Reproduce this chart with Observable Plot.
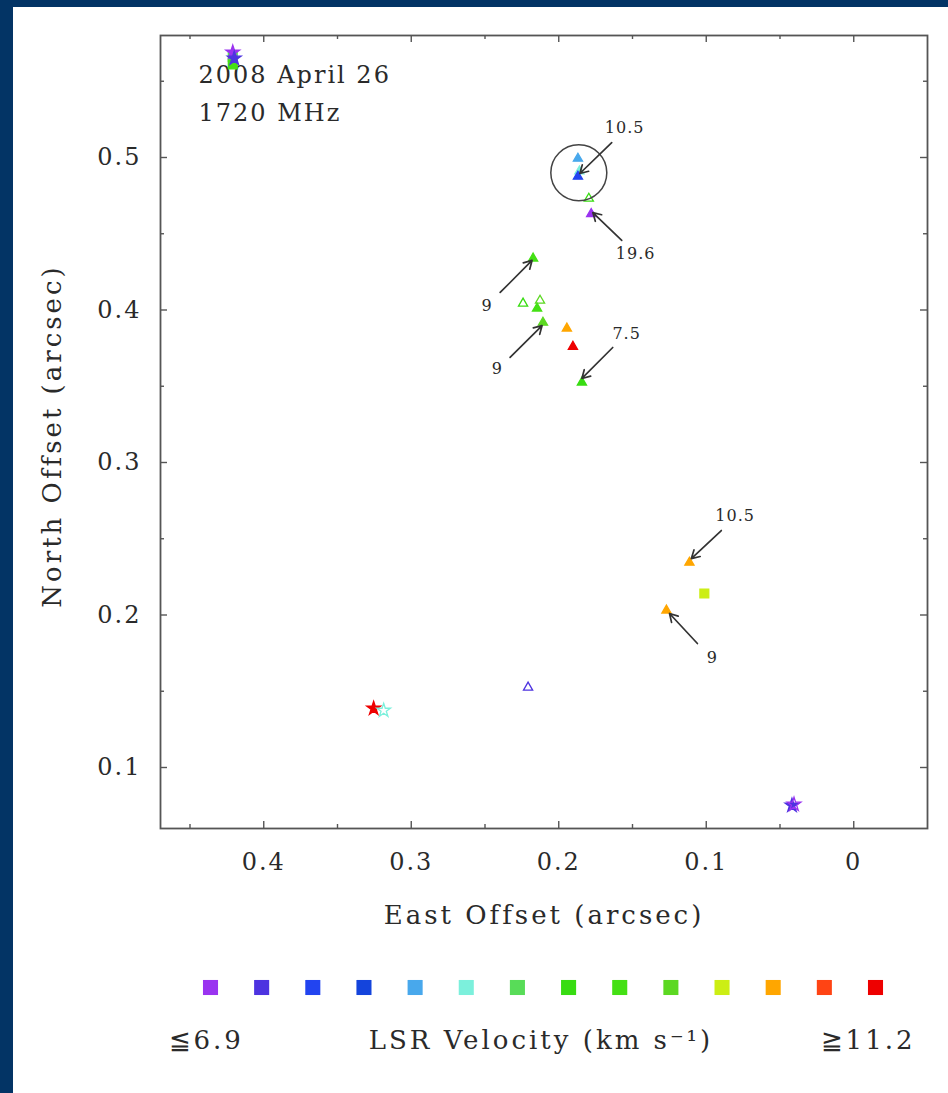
<!DOCTYPE html>
<html>
<head>
<meta charset="utf-8">
<script src="https://cdn.jsdelivr.net/npm/d3@7"></script>
<script src="https://cdn.jsdelivr.net/npm/@observablehq/plot@0.6"></script>
<style>
  html, body { margin: 0; padding: 0; background: #033465; width: 948px; height: 1093px; overflow: hidden; }
  #panel { position: absolute; left: 13px; top: 7px; width: 935px; height: 1086px; background: #fff; }
  #panel svg { display: block; }
</style>
</head>
<body>
<div id="panel"></div>
<script>
// Velocity bins, from the lowest (≦6.9 km/s) to the highest (≧11.2 km/s)
const velocityColors = ["#9a33f0", "#4d33e0", "#2244f0", "#1444dc", "#48a8ec", "#7cf0dc",
                        "#58dc58", "#38dc12", "#44e014", "#5cd822", "#ccee14", "#ffa600", "#ff4414", "#ee0000"];

// Maser spots: east offset, north offset (arcsec), velocity bin, marker, open/filled
const spotEast  = [0.421, 0.421, 0.421, 0.420,
                   0.187, 0.186, 0.187, 0.1796, 0.178,
                   0.2174, 0.2242, 0.2127, 0.2147, 0.2107, 0.1945, 0.1904, 0.1843,
                   0.1114, 0.1013, 0.127,
                   0.3255, 0.3187, 0.2208,
                   0.0419, 0.0405];
const spotNorth = [0.566, 0.561, 0.569, 0.565,
                   0.4993, 0.491, 0.4875, 0.4731, 0.463,
                   0.4338, 0.4043, 0.4062, 0.401, 0.3918, 0.3879, 0.376, 0.3525,
                   0.2344, 0.2141, 0.203,
                   0.1387, 0.1374, 0.1525,
                   0.0751, 0.0758];
const spotBin   = [6, 8, 0, 1,
                   4, 5, 2, 7, 0,
                   8, 7, 9, 8, 9, 11, 13, 7,
                   11, 10, 11,
                   13, 5, 1,
                   1, 0];
const spotShape = ["square", "square", "star", "star",
                   "triangle", "triangle", "triangle", "triangle", "triangle",
                   "triangle", "triangle", "triangle", "triangle", "triangle", "triangle", "triangle", "triangle",
                   "triangle", "square", "triangle",
                   "star", "star", "triangle",
                   "star", "star"];
const spotOpen  = [false, false, false, false,
                   false, false, false, true, false,
                   false, true, true, false, false, false, false, false,
                   false, false, false,
                   false, true, true,
                   false, true];

// Annotated spots: label, arrow tail, arrow head, label position
const arrowLabel = ["10.5", "19.6", "9", "9", "7.5", "10.5", "9"];
const arrowTailE = [0.1641, 0.1573, 0.2397, 0.2330, 0.1634, 0.0898, 0.1060];
const arrowTailN = [0.5098, 0.4456, 0.4115, 0.3689, 0.3754, 0.2554, 0.1813];
const arrowHeadE = [0.1857, 0.1769, 0.2181, 0.2113, 0.1843, 0.1101, 0.1249];
const arrowHeadN = [0.4895, 0.4639, 0.4325, 0.3898, 0.3551, 0.2370, 0.2010];
const labelE     = [0.1553, 0.1479, 0.2485, 0.2417, 0.1540, 0.0804, 0.0959];
const labelN     = [0.5197, 0.4370, 0.4030, 0.3616, 0.3846, 0.2652, 0.1721];

// Highlighted group
const ringE = [0.1864];
const ringN = [0.490];

// Axis ticks
const eastMajor  = [0.4, 0.3, 0.2, 0.1, 0];
const eastMinor  = [0.45, 0.35, 0.25, 0.15, 0.05];
const northMajor = [0.1, 0.2, 0.3, 0.4, 0.5];
const northMinor = [0.15, 0.25, 0.35, 0.45, 0.55];

const spots = spotEast.map((e, i) => ({
  east: e, north: spotNorth[i], color: velocityColors[spotBin[i]], shape: spotShape[i], open: spotOpen[i]
}));
const arrows = arrowLabel.map((t, i) => ({
  label: t, x1: arrowTailE[i], y1: arrowTailN[i], x2: arrowHeadE[i], y2: arrowHeadN[i], lx: labelE[i], ly: labelN[i]
}));

const W = 935, H = 940;
const mL = 147, mR = 21, mT = 28, mB = 119;
const fw = W - mL - mR, fh = H - mT - mB;
const axisColor = "#555";
const ink = "#2a2a2a";
const font = "'DejaVu Serif', serif";

function spotDots(shape, r) {
  const data = spots.filter(d => d.shape === shape);
  return Plot.dot(data, {
    x: "east", y: "north", symbol: shape, r,
    fill: d => d.open ? "none" : d.color,
    stroke: "color", strokeWidth: 1.3
  });
}

const chart = Plot.plot({
  width: W, height: H,
  marginLeft: mL, marginRight: mR, marginTop: mT, marginBottom: mB,
  x: { domain: [0.47, -0.05], axis: null },
  y: { domain: [0.06, 0.58], axis: null },
  color: { type: "identity" },
  style: { fontFamily: font, fontSize: "24px", color: ink, background: "transparent", letterSpacing: "2px" },
  marks: [
    // inward ticks on all four sides
    Plot.tickX(eastMajor, { x: d => d, insetTop: fh - 7, stroke: axisColor, strokeWidth: 1.4 }),
    Plot.tickX(eastMajor, { x: d => d, insetBottom: fh - 7, stroke: axisColor, strokeWidth: 1.4 }),
    Plot.tickX(eastMinor, { x: d => d, insetTop: fh - 4, stroke: axisColor, strokeWidth: 1.4 }),
    Plot.tickX(eastMinor, { x: d => d, insetBottom: fh - 4, stroke: axisColor, strokeWidth: 1.4 }),
    Plot.tickY(northMajor, { y: d => d, insetRight: fw - 7, stroke: axisColor, strokeWidth: 1.4 }),
    Plot.tickY(northMajor, { y: d => d, insetLeft: fw - 7, stroke: axisColor, strokeWidth: 1.4 }),
    Plot.tickY(northMinor, { y: d => d, insetRight: fw - 4, stroke: axisColor, strokeWidth: 1.4 }),
    Plot.tickY(northMinor, { y: d => d, insetLeft: fw - 4, stroke: axisColor, strokeWidth: 1.4 }),
    Plot.frame({ stroke: axisColor, strokeWidth: 1.8 }),

    // tick labels
    Plot.text(eastMajor, { x: d => d, text: d => String(d), frameAnchor: "bottom", lineAnchor: "middle", dy: 34, fill: ink }),
    Plot.text(northMajor, { y: d => d, text: d => String(d), frameAnchor: "left", lineAnchor: "middle", dx: -19, textAnchor: "end", fill: ink }),

    // axis titles
    Plot.text(["East Offset (arcsec)"], { text: d => d, frameAnchor: "bottom", lineAnchor: "middle", textAnchor: "middle",
      dy: 87, fontSize: 26, fill: ink }),
    Plot.text(["North Offset (arcsec)"], { text: d => d, frameAnchor: "left", lineAnchor: "middle", textAnchor: "middle",
      dx: -108, dy: 4, rotate: -90, fontSize: 26, fill: ink }),

    // epoch and transition
    Plot.text(["2008 April 26"], { text: d => d, frameAnchor: "top-left", lineAnchor: "middle", textAnchor: "start", dx: 38, dy: 40, fill: ink }),
    Plot.text(["1720 MHz"], { text: d => d, frameAnchor: "top-left", lineAnchor: "middle", textAnchor: "start", dx: 38, dy: 78, fill: ink }),

    // spots
    spotDots("square", 5),
    spotDots("triangle", 3.4),
    spotDots("star", 4.3),

    // highlighted group
    Plot.dot(ringE, { x: d => d, y: (d, i) => ringN[i], r: 28, stroke: "#444", strokeWidth: 1.5, fill: "none" }),

    // annotations
    Plot.arrow(arrows, { x1: "x1", y1: "y1", x2: "x2", y2: "y2", stroke: "#333", strokeWidth: 1.7, headLength: 8 }),
    Plot.text(arrows, { x: "lx", y: "ly", text: "label", fontSize: 16, lineAnchor: "middle", fill: ink })
  ]
});
d3.select(chart).selectAll('g[font-size="26"]').attr("letter-spacing", "3px");
d3.select(chart).selectAll('g[font-size="16"]').attr("letter-spacing", "1px");

// velocity colour key
const binIndex = velocityColors.map((c, i) => i);
const key = Plot.plot({
  width: W, height: 146,
  marginLeft: 197, marginRight: 73, marginTop: 0, marginBottom: 66,
  x: { domain: [0, binIndex.length - 1], axis: null },
  color: { type: "identity" },
  style: { fontFamily: font, fontSize: "26px", color: ink, background: "transparent", letterSpacing: "3px" },
  marks: [
    Plot.dot(binIndex, { x: d => d, symbol: "square", r: 8.5, fill: d => velocityColors[d] }),
    Plot.text(["≦6.9"], { text: d => d, frameAnchor: "bottom-left", lineAnchor: "middle", dx: -42, dy: 13, textAnchor: "start", fill: ink }),
    Plot.text(["LSR Velocity (km s⁻¹)"], { text: d => d, frameAnchor: "bottom", lineAnchor: "middle", dx: -2, dy: 13, fill: ink }),
    Plot.text(["≧11.2"], { text: d => d, frameAnchor: "bottom-right", lineAnchor: "middle", dx: 40, dy: 13, textAnchor: "end", fill: ink })
  ]
});

const panel = document.getElementById("panel");
panel.appendChild(chart);
panel.appendChild(key);
</script>
</body>
</html>
